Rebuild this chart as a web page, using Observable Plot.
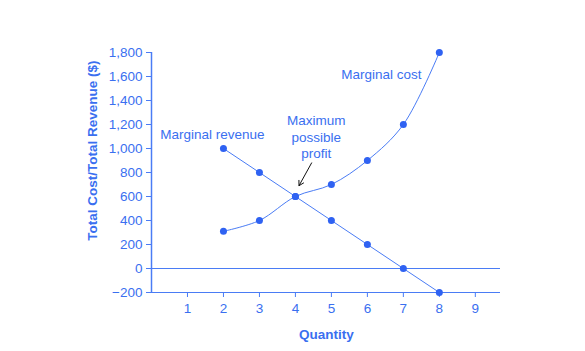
<!DOCTYPE html>
<html>
<head>
<meta charset="utf-8">
<script src="https://cdn.jsdelivr.net/npm/d3@7"></script>
<script src="https://cdn.jsdelivr.net/npm/@observablehq/plot@0.6"></script>
<style>
  html, body { margin: 0; padding: 0; background: #fff; }
  svg { font-family: "Liberation Sans", Arial, sans-serif; }
</style>
</head>
<body>
<div id="chart"></div>
<script>
const quantity = [2, 3, 4, 5, 6, 7, 8];
const marginalCost = [310, 400, 600, 700, 900, 1200, 1800];
const marginalRevenue = [1000, 800, 600, 400, 200, 0, -200];
const xTicks = [1, 2, 3, 4, 5, 6, 7, 8, 9];
const yTicks = [-200, 0, 200, 400, 600, 800, 1000, 1200, 1400, 1600, 1800];
const labelText = ["Marginal revenue", "Marginal cost", "Maximum\npossible\nprofit"];
const labelX = [1.69, 6.39, 4.58];
const labelY = [1125, 1625, 1100];
const arrowFrom = [4.45, 880];
const arrowTo = [4.1, 690];

const blue = "#2f62f2";
const lineBlue = "#4a7cf5";
const textBlue = "#3a6ff0";

const mc = quantity.map((q, i) => ({q, v: marginalCost[i]}));
const mr = quantity.map((q, i) => ({q, v: marginalRevenue[i]}));
const labels = labelText.map((t, i) => ({t, x: labelX[i], y: labelY[i]}));

const fmt = d => d3.format(",")(d);

const plot = Plot.plot({
  width: 585,
  height: 351,
  marginLeft: 151,
  marginRight: 85,
  marginTop: 52,
  marginBottom: 59,
  style: {fontFamily: "'Liberation Sans', Arial, sans-serif", fontSize: "13.5px", color: textBlue},
  x: {domain: [0, 9.7]},
  y: {domain: [-200, 1800]},
  marks: [
    Plot.ruleX([0], {y1: -200, y2: 1800, stroke: lineBlue, strokeWidth: 1.5}),
    Plot.ruleY([-200], {x1: 0, x2: 9.7, stroke: lineBlue}),
    Plot.ruleY([0], {x1: 0, x2: 9.7, stroke: lineBlue}),
    Plot.axisY({ticks: yTicks, tickFormat: fmt, tickSize: 5, tickPadding: 4, stroke: lineBlue, fill: textBlue, fontSize: 13.5, label: null}),
    Plot.axisX({ticks: xTicks, tickSize: 5, tickPadding: 6, stroke: lineBlue, fill: textBlue, fontSize: 13.5, label: null}),
    Plot.text(["Total Cost/Total Revenue ($)"], {x: () => 0, y: () => 983, dx: -59, rotate: -90, textAnchor: "middle", fill: textBlue, fontWeight: "bold", fontSize: 13.5}),
    Plot.text(["Quantity"], {x: () => 4.86, y: () => -200, dy: 42, fill: textBlue, fontWeight: "bold", fontSize: 13.5}),
    Plot.line(mc, {x: "q", y: "v", curve: "catmull-rom", stroke: lineBlue, strokeWidth: 1}),
    Plot.line(mr, {x: "q", y: "v", stroke: lineBlue, strokeWidth: 1}),
    Plot.dot(mc, {x: "q", y: "v", r: 3.5, fill: blue}),
    Plot.dot(mr, {x: "q", y: "v", r: 3.5, fill: blue}),
    Plot.text(labels, {x: "x", y: "y", text: "t", fill: textBlue, fontSize: 13.5, lineHeight: 1.22}),
    Plot.arrow([0], {x1: () => arrowFrom[0], y1: () => arrowFrom[1], x2: () => arrowTo[0], y2: () => arrowTo[1], stroke: "#111", strokeWidth: 1, headLength: 8})
  ]
});
document.getElementById("chart").appendChild(plot);
</script>
</body>
</html>
